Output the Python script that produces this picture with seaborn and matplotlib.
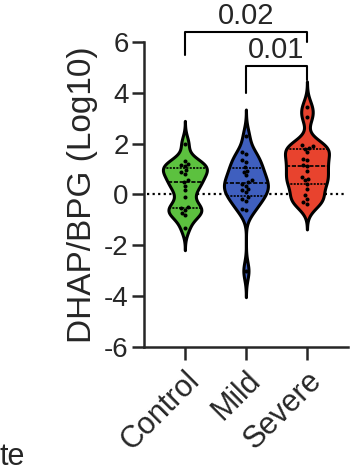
import numpy as np
import pandas as pd
import matplotlib
matplotlib.use("Agg")
import matplotlib.pyplot as plt
import seaborn as sns

#   ____________________________________________________________________________
#   data                                                                    ####

groups = ["Control", "Mild", "Severe"]
colors = ["#5CC13F", "#3F5FBF", "#E8432E"]

control = [2.0, 1.3, 1.2, 1.15, 1.1, 0.95, 0.88, 0.8, 0.55, 0.5, 0.35, 0.18,
           -0.1, -0.5, -0.55, -0.62, -0.72, -0.82, -1.3]
mild = [2.3, 1.67, 1.6, 1.34, 1.27, 1.08, 0.94, 0.88, 0.75, 0.55, 0.49, 0.42,
        0.35, 0.22, 0.16, 0.09, -0.1, -0.17, -0.24, -0.56, -0.63, -3.0]
severe = [3.44, 3.04, 1.93, 1.89, 1.84, 1.8, 1.67, 1.4, 1.34, 1.14, 1.1, 0.94,
          0.68, 0.62, 0.55, 0.42, 0.22, -0.04, -0.17, -0.3, -0.37]

pvals = ["0.02", "0.01"]
yticks = [-6, -4, -2, 0, 2, 4, 6]

df = pd.DataFrame({
    "group": ["Control"] * len(control) + ["Mild"] * len(mild) + ["Severe"] * len(severe),
    "value": control + mild + severe,
})

#   ____________________________________________________________________________
#   plot                                                                    ####

sns.set_style("ticks")
plt.rcParams["font.family"] = ["Liberation Sans", "DejaVu Sans"]

fig = plt.figure(figsize=(3.64, 4.76), dpi=100)
ax = fig.add_axes([0.3956, 0.271, 0.56, 0.641])

ax.axhline(0, color="black", linestyle=(0, (1, 1.5)), linewidth=1.6, zorder=0,
           xmin=0.017, xmax=0.99)

sns.violinplot(data=df, x="group", y="value", hue="group", order=groups,
               palette=colors, legend=False, inner="quart", linewidth=2.2,
               linecolor="black", bw_adjust=0.6, cut=3, width=0.72,
               density_norm="width", saturation=1, ax=ax,
               inner_kws=dict(linewidth=1.2))
sns.swarmplot(data=df, x="group", y="value", order=groups, color="black",
              size=2.9, ax=ax)

ax.set_xlim(-0.67, 2.67)
ax.set_ylim(-6, 6)
ax.set_yticks(yticks)
ax.set_yticklabels([str(t) for t in yticks], fontsize=20)
ax.set_xlabel("")
ax.set_ylabel("DHAP/BPG (Log10)", fontsize=24, labelpad=4)
ax.set_xticks(range(len(groups)))
ax.set_xticklabels(groups, fontsize=22, rotation=45, ha="right",
                   rotation_mode="anchor")
ax.tick_params(axis="both", length=9, width=1.8, pad=2)
ax.tick_params(axis="x", pad=4)
sns.despine(ax=ax)
for s in ["left", "bottom"]:
    ax.spines[s].set_linewidth(1.8)

# significance brackets
kw = dict(color="black", linewidth=1.5, clip_on=False)
ax.plot([0, 0, 2, 2], [5.47, 6.38, 6.38, 5.98], **kw)
ax.text(1, 6.7, pvals[0], ha="center", va="baseline", fontsize=21)
ax.plot([1, 1, 2, 2], [3.98, 5.04, 5.04, 4.49], **kw)
ax.text(1.5, 5.35, pvals[1], ha="center", va="baseline", fontsize=21)

fig.text(0.0, 0.04, "te", fontsize=22, ha="left", va="center")

fig.savefig("out.png", dpi=100)
